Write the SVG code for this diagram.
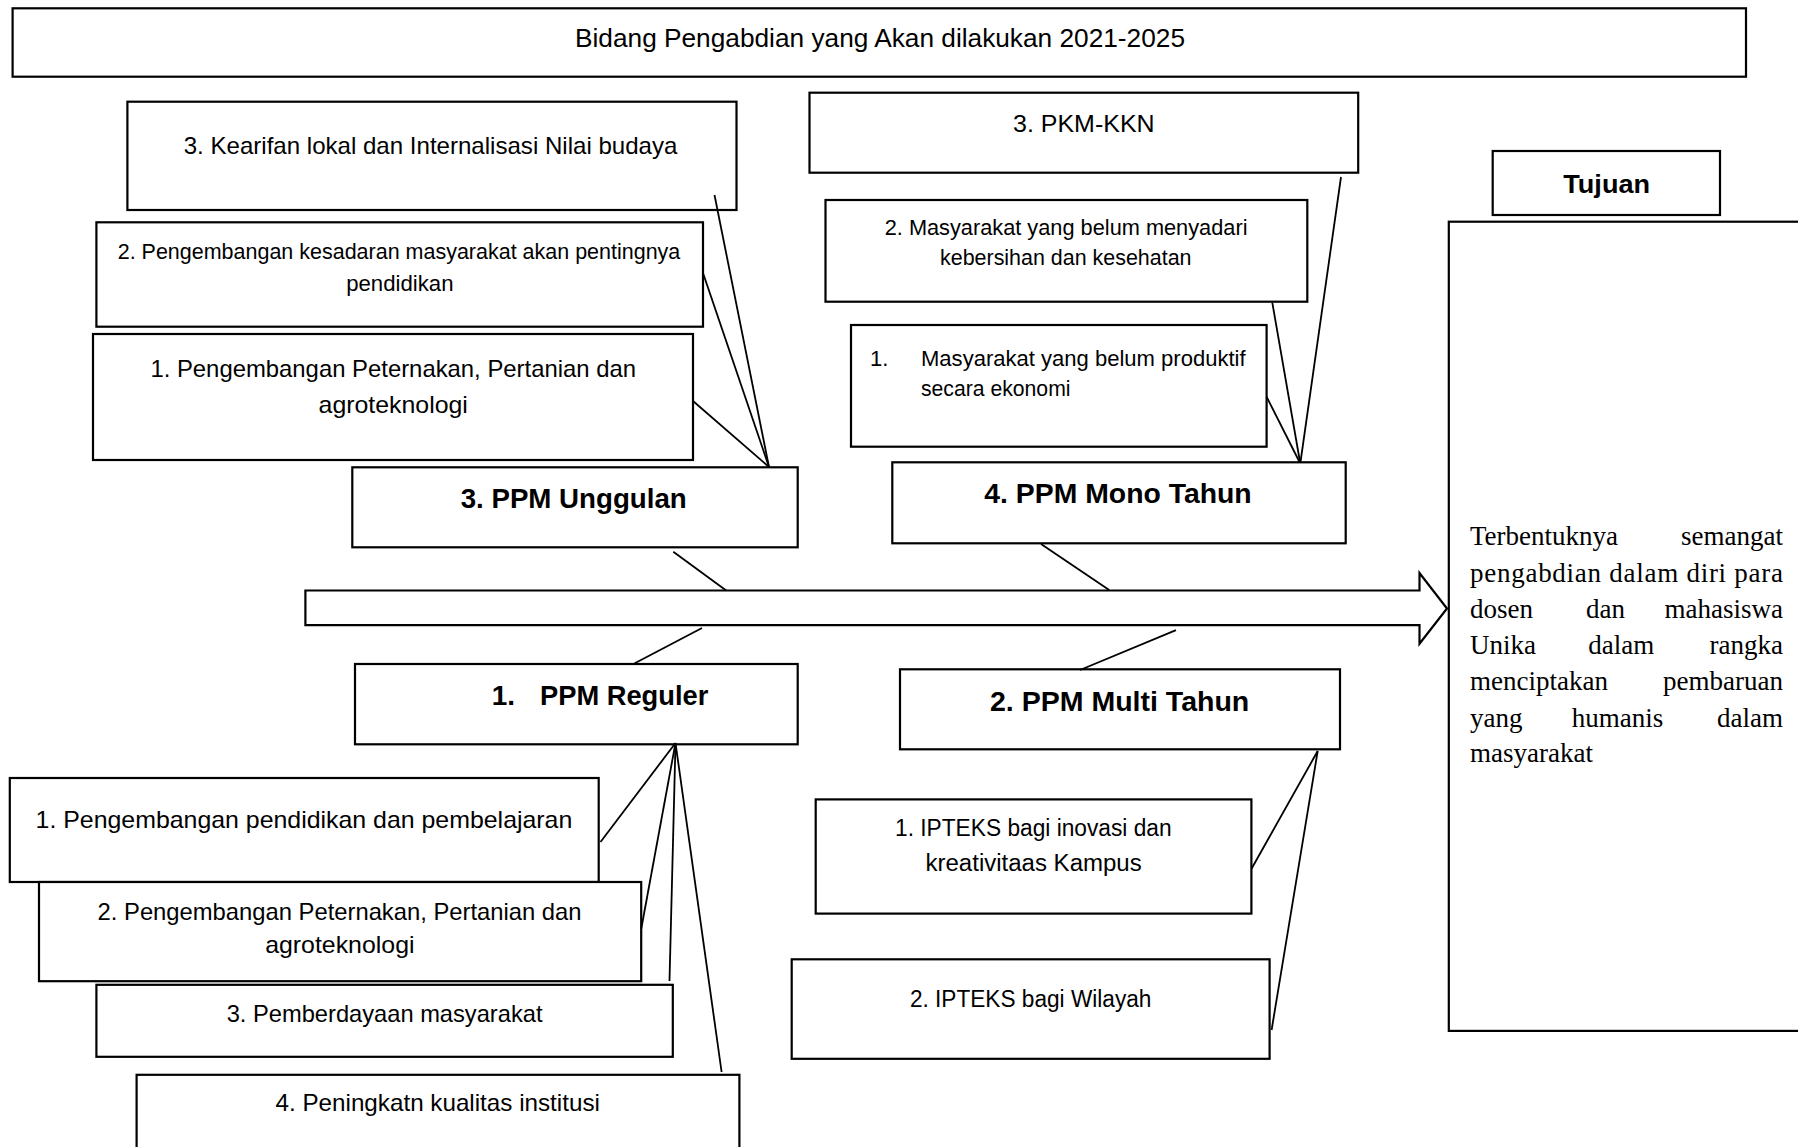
<svg xmlns="http://www.w3.org/2000/svg" width="1798" height="1147" viewBox="0 0 1798 1147">
<style>
.box{fill:#fff;stroke:#000;stroke-width:2.2}
.t{font-family:"Liberation Sans",Arial,sans-serif;fill:#000}
.b{font-family:"Liberation Sans",Arial,sans-serif;font-weight:bold;fill:#000}
.s{font-family:"Liberation Serif","Times New Roman",serif;font-size:27px;fill:#000}
.e{text-anchor:end}
.c{stroke:#000;stroke-width:1.8;fill:none}
</style>
<rect width="1798" height="1147" fill="#fff"/>
<g id="title">
<rect class="box" x="12.6" y="8.3" width="1733.4" height="68.4"/>
<text class="t" x="575" y="46.7" font-size="26" textLength="610" lengthAdjust="spacingAndGlyphs">Bidang Pengabdian yang Akan dilakukan 2021-2025</text>
</g>
<g id="arrow">
<polygon class="box" points="305.4,590.5 1419.5,590.5 1419.5,573 1447,608.5 1419.5,643.8 1419.5,625.2 305.4,625.2"/>
</g>
<g id="k3">
<rect class="box" x="127.4" y="101.7" width="609.1" height="108.3"/>
<text class="t" x="183.7" y="153.5" font-size="24" textLength="493.7" lengthAdjust="spacingAndGlyphs">3. Kearifan lokal dan Internalisasi Nilai budaya</text>
</g>
<g id="k2">
<rect class="box" x="96.4" y="222.3" width="606.6" height="104.4"/>
<text class="t" x="117.7" y="258.5" font-size="21.5" textLength="562.6" lengthAdjust="spacingAndGlyphs">2. Pengembangan kesadaran masyarakat akan pentingnya</text>
<text class="t" x="346.2" y="291" font-size="21.5" textLength="107.3" lengthAdjust="spacingAndGlyphs">pendidikan</text>
</g>
<g id="k1">
<rect class="box" x="93" y="334" width="600" height="126"/>
<text class="t" x="150.4" y="377" font-size="24" textLength="485.6" lengthAdjust="spacingAndGlyphs">1. Pengembangan Peternakan, Pertanian dan</text>
<text class="t" x="318.6" y="412.5" font-size="24" textLength="149.3" lengthAdjust="spacingAndGlyphs">agroteknologi</text>
</g>
<g id="unggulan">
<rect class="box" x="352.3" y="467.3" width="445.4" height="80"/>
<text class="b" x="460.7" y="508.3" font-size="28" textLength="226" lengthAdjust="spacingAndGlyphs">3. PPM Unggulan</text>
</g>
<g id="pkm">
<rect class="box" x="809.5" y="92.7" width="548.7" height="80"/>
<text class="t" x="1013" y="131.7" font-size="24" textLength="141.6" lengthAdjust="spacingAndGlyphs">3. PKM-KKN</text>
</g>
<g id="m2">
<rect class="box" x="825.5" y="200" width="481.8" height="101.7"/>
<text class="t" x="884.7" y="235" font-size="21.8" textLength="362.8" lengthAdjust="spacingAndGlyphs">2. Masyarakat yang belum menyadari</text>
<text class="t" x="940" y="265" font-size="21.8" textLength="251.5" lengthAdjust="spacingAndGlyphs">kebersihan dan kesehatan</text>
</g>
<g id="m1">
<rect class="box" x="851" y="325" width="415.6" height="121.7"/>
<text class="t" x="870" y="365.5" font-size="22">1.</text>
<text class="t" x="921" y="365.5" font-size="22" textLength="324.6" lengthAdjust="spacingAndGlyphs">Masyarakat yang belum produktif</text>
<text class="t" x="921" y="395.5" font-size="22" textLength="149.5" lengthAdjust="spacingAndGlyphs">secara ekonomi</text>
</g>
<g id="mono">
<rect class="box" x="892.3" y="462.3" width="453.4" height="81"/>
<text class="b" x="984.3" y="503" font-size="28" textLength="267.4" lengthAdjust="spacingAndGlyphs">4. PPM Mono Tahun</text>
</g>
<g id="tujuan">
<rect class="box" x="1492.7" y="151" width="227.3" height="64"/>
<text class="b" x="1563.3" y="193.3" font-size="26" textLength="86.7" lengthAdjust="spacingAndGlyphs">Tujuan</text>
</g>
<g id="tujuan-isi">
<rect class="box" x="1448.8" y="221.7" width="400" height="809.2"/>
<text class="s" x="1470" y="545">Terbentuknya</text>
<text class="s e" x="1783" y="545">semangat</text>
<text class="s" x="1470" y="581.5" textLength="313" lengthAdjust="spacing">pengabdian dalam diri para</text>
<text class="s" x="1470" y="618">dosen</text>
<text class="s" x="1586" y="618">dan</text>
<text class="s e" x="1783" y="618">mahasiswa</text>
<text class="s" x="1470" y="654.3">Unika</text>
<text class="s" x="1588.3" y="654.3">dalam</text>
<text class="s e" x="1783" y="654.3">rangka</text>
<text class="s" x="1470" y="690.3">menciptakan</text>
<text class="s e" x="1783" y="690.3">pembaruan</text>
<text class="s" x="1470" y="726.5">yang</text>
<text class="s" x="1571.7" y="726.5">humanis</text>
<text class="s e" x="1783" y="726.5">dalam</text>
<text class="s" x="1470" y="762">masyarakat</text>
</g>
<g id="reguler">
<rect class="box" x="355" y="664" width="442.7" height="80.3"/>
<text class="b" x="491.7" y="705" font-size="28">1.</text>
<text class="b" x="540" y="705" font-size="28" textLength="168.3" lengthAdjust="spacingAndGlyphs">PPM Reguler</text>
</g>
<g id="multi">
<rect class="box" x="900" y="669.3" width="440" height="80"/>
<text class="b" x="990" y="710.7" font-size="28" textLength="259.3" lengthAdjust="spacingAndGlyphs">2. PPM Multi Tahun</text>
</g>
<g id="r1">
<rect class="box" x="9.8" y="778" width="588.9" height="104"/>
<text class="t" x="35.6" y="828" font-size="24" textLength="536.7" lengthAdjust="spacingAndGlyphs">1. Pengembangan pendidikan dan pembelajaran</text>
</g>
<g id="r2">
<rect class="box" x="39" y="882" width="602.2" height="99.2"/>
<text class="t" x="97.6" y="920" font-size="24" textLength="483.9" lengthAdjust="spacingAndGlyphs">2. Pengembangan Peternakan, Pertanian dan</text>
<text class="t" x="265.2" y="952.5" font-size="24" textLength="149.3" lengthAdjust="spacingAndGlyphs">agroteknologi</text>
</g>
<g id="r3">
<rect class="box" x="96.4" y="984.8" width="576.4" height="72"/>
<text class="t" x="226.7" y="1021.5" font-size="24" textLength="315.8" lengthAdjust="spacingAndGlyphs">3. Pemberdayaan masyarakat</text>
</g>
<g id="r4">
<rect class="box" x="136.6" y="1074.8" width="602.8" height="100"/>
<text class="t" x="275.5" y="1111" font-size="24" textLength="324.4" lengthAdjust="spacingAndGlyphs">4. Peningkatn kualitas institusi</text>
</g>
<g id="ipteks1">
<rect class="box" x="815.7" y="799.4" width="435.7" height="114.2"/>
<text class="t" x="895" y="836.2" font-size="23" textLength="276.6" lengthAdjust="spacingAndGlyphs">1. IPTEKS bagi inovasi dan</text>
<text class="t" x="925.5" y="870.5" font-size="23" textLength="216.2" lengthAdjust="spacingAndGlyphs">kreativitaas Kampus</text>
</g>
<g id="ipteks2">
<rect class="box" x="791.7" y="959.3" width="477.9" height="99.5"/>
<text class="t" x="909.9" y="1006.5" font-size="23" textLength="241.5" lengthAdjust="spacingAndGlyphs">2. IPTEKS bagi Wilayah</text>
</g>
<g id="connectors">
<line class="c" x1="714.5" y1="195" x2="769" y2="467"/>
<line class="c" x1="703" y1="273" x2="769" y2="467"/>
<line class="c" x1="693" y1="401" x2="769" y2="467"/>
<line class="c" x1="1341" y1="177" x2="1300.5" y2="462"/>
<line class="c" x1="1272.3" y1="302.7" x2="1300" y2="462"/>
<line class="c" x1="1266.6" y1="396.7" x2="1299.5" y2="462"/>
<line class="c" x1="673.3" y1="551.7" x2="726.2" y2="590.5"/>
<line class="c" x1="1041" y1="544" x2="1109.2" y2="590"/>
<line class="c" x1="702" y1="628" x2="634.3" y2="663.5"/>
<line class="c" x1="1176" y1="630.2" x2="1080" y2="670"/>
<line class="c" x1="675.5" y1="743" x2="600.5" y2="842"/>
<line class="c" x1="675.5" y1="743" x2="641.2" y2="929"/>
<line class="c" x1="675.5" y1="743" x2="669.5" y2="981"/>
<line class="c" x1="675.5" y1="743" x2="721.6" y2="1072"/>
<line class="c" x1="1317.7" y1="751" x2="1251.4" y2="869"/>
<line class="c" x1="1317.7" y1="751" x2="1271.6" y2="1030"/>
</g>
</svg>
